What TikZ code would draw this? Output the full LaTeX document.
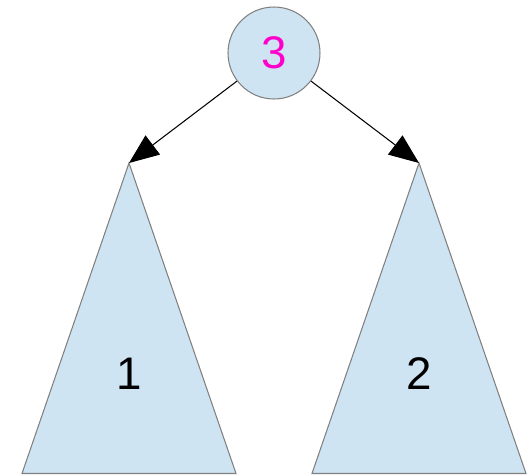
\documentclass[tikz,border=0pt]{standalone}
\usepackage{fontspec}
\setmainfont{Liberation Sans}
\usetikzlibrary{arrows.meta}
\definecolor{treefill}{HTML}{CFE4F2}
\definecolor{treeline}{HTML}{808080}
\definecolor{rootlabel}{HTML}{FF00CC}
\tikzset{
  subtree/.style={fill=treefill, draw=treeline, line width=0.6pt},
  rootnode/.style={circle, fill=treefill, draw=treeline, line width=0.6pt,
    minimum size=1.84cm, inner sep=0pt, text=rootlabel},
  bignum/.style={font=\fontsize{26}{30}\selectfont},
  child/.style={-{Triangle[length=17pt, width=13.6pt]}, line width=0.6pt}
}
\begin{document}
\begin{tikzpicture}[x=0.02cm, y=-0.02cm]
      \useasboundingbox (0,0) rectangle (530,474);
      \draw[subtree] (22,473.5) -- (129,163) -- (236,473.5) -- cycle;
      \draw[subtree] (312,473.5) -- (419,163) -- (526,473.5) -- cycle;
      \draw
        (274,53) node[rootnode, bignum] (3){3}
        (129,163) coordinate (1top)
        (419,163) coordinate (2top)
        (129,374) node[bignum] (1){1}
        (419,374) node[bignum] (2){2};
      \begin{scope}[child]
        \draw (3) to (1top);
        \draw (3) to (2top);
      \end{scope}
    \end{tikzpicture}
\end{document}
